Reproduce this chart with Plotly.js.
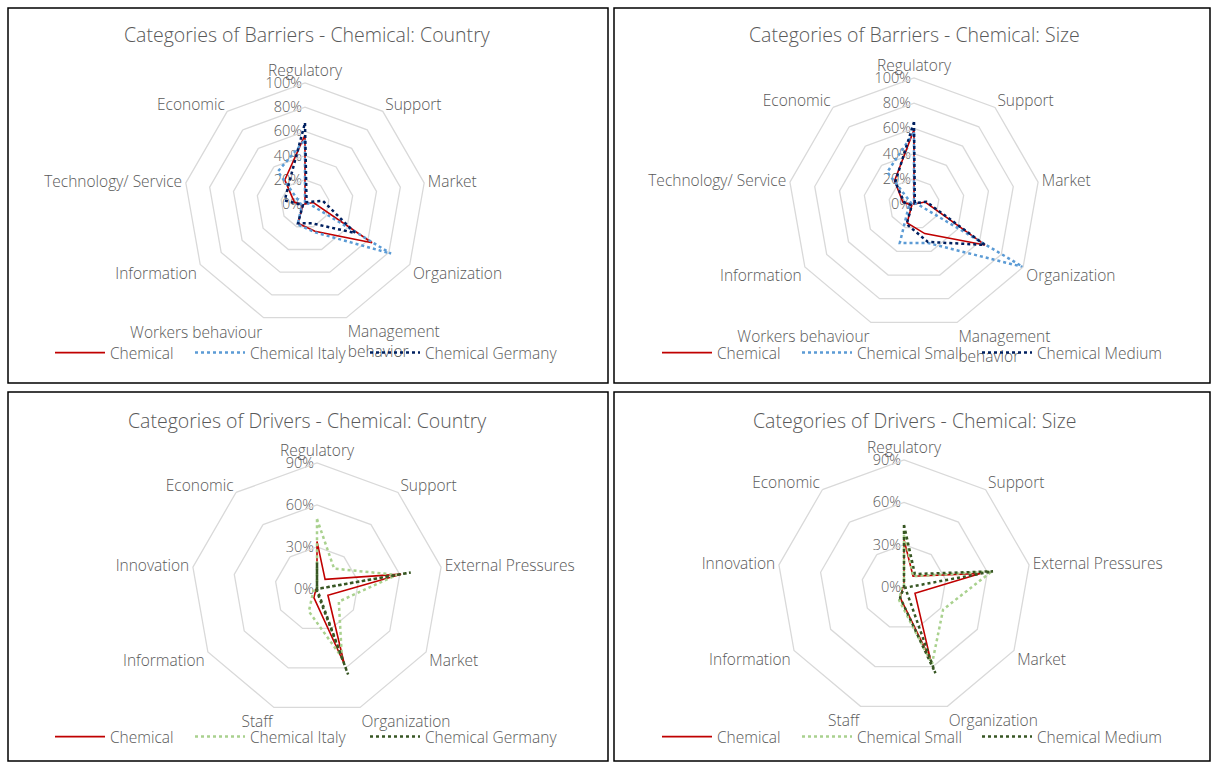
<!DOCTYPE html>
<html>
<head>
<meta charset="utf-8">
<script src="https://cdn.plot.ly/plotly-3.0.1.min.js"></script>
<style>
html,body{margin:0;padding:0;background:#fff;}
#chart{width:1211px;height:762px;}
</style>
</head>
<body>
<div id="chart"></div>
<script>
// ---- Categories ----
var barrierCats = ['Regulatory','Support','Market','Organization','Management<br>behavior','Workers behaviour','Information','Technology/ Service','Economic'];
var driverCats = ['Regulatory','Support','External Pressures','Market','Organization','Staff','Information','Innovation','Economic'];

// ---- Barriers: Country ----
var barCountryChemical = [0.57, 0.00, 0.07, 0.64, 0.24, 0.17, 0.02, 0.09, 0.26];
var barCountryItaly    = [0.53, 0.00, 0.03, 0.82, 0.25, 0.18, 0.03, 0.04, 0.35];
var barCountryGermany  = [0.67, 0.02, 0.15, 0.48, 0.17, 0.17, 0.02, 0.17, 0.21];

// ---- Barriers: Size ----
var barSizeChemical = [0.59, 0.00, 0.09, 0.65, 0.25, 0.16, 0.02, 0.09, 0.24];
var barSizeSmall    = [0.57, 0.00, 0.02, 1.00, 0.33, 0.33, 0.05, 0.02, 0.33];
var barSizeMedium   = [0.65, 0.01, 0.10, 0.65, 0.32, 0.17, 0.02, 0.08, 0.23];

// ---- Drivers: Country ----
var drvCountryChemical = [0.34, 0.09, 0.61, 0.09, 0.57, 0.065, 0.01, 0.00, 0.00];
var drvCountryItaly    = [0.50, 0.19, 0.58, 0.18, 0.52, 0.17, 0.03, 0.00, 0.00];
var drvCountryGermany  = [0.19, 0.00, 0.68, 0.00, 0.65, 0.01, 0.00, 0.00, 0.00];

// ---- Drivers: Size ----
var drvSizeChemical = [0.335, 0.10, 0.55, 0.09, 0.55, 0.08, 0.01, 0.00, 0.00];
var drvSizeSmall    = [0.40, 0.10, 0.63, 0.32, 0.58, 0.10, 0.02, 0.00, 0.00];
var drvSizeMedium   = [0.44, 0.12, 0.64, 0.01, 0.65, 0.08, 0.00, 0.00, 0.00];

// ---- Tick labels ----
var barrierTickVals = [0, 0.2, 0.4, 0.6, 0.8, 1.0];
var barrierTickText = ['0%','20%','40%','60%','80%','100%'];
var driverTickVals = [0, 0.3, 0.6, 0.9];
var driverTickText = ['0%','30%','60%','90%'];

var FONT = '"Open Sans", Lato, sans-serif';
var TXT = '#595959';
var WT = 300;
var FS = 15.5;

var W = 1211, H = 762;
function px(x){ return x/W; }
function py(y){ return 1 - y/H; }

function close(a){ return a.concat([a[0]]); }

function tr(r, cats, name, color, dash, width, sub, leg){
  return {
    type:'scatterpolar', mode:'lines',
    r: close(r), theta: close(cats), name: name,
    line:{color:color, dash:dash, width:width},
    subplot: sub, legend: leg, hoverinfo:'skip'
  };
}

var RED = '#c00000', LBLUE = '#5b9bd5', NAVY = '#002060', LGREEN = '#a9d18e', DGREEN = '#375623';

var data = [
  tr(barCountryChemical, barrierCats, 'Chemical', RED, 'solid', 1.6, 'polar', 'legend'),
  tr(barCountryItaly, barrierCats, 'Chemical Italy', LBLUE, 'dot', 2.5, 'polar', 'legend2'),
  tr(barCountryGermany, barrierCats, 'Chemical Germany', NAVY, 'dot', 2.5, 'polar', 'legend3'),

  tr(barSizeChemical, barrierCats, 'Chemical', RED, 'solid', 1.6, 'polar2', 'legend4'),
  tr(barSizeSmall, barrierCats, 'Chemical Small', LBLUE, 'dot', 2.5, 'polar2', 'legend5'),
  tr(barSizeMedium, barrierCats, 'Chemical Medium', NAVY, 'dot', 2.5, 'polar2', 'legend6'),

  tr(drvCountryChemical, driverCats, 'Chemical', RED, 'solid', 1.6, 'polar3', 'legend7'),
  tr(drvCountryItaly, driverCats, 'Chemical Italy', LGREEN, 'dot', 2.5, 'polar3', 'legend8'),
  tr(drvCountryGermany, driverCats, 'Chemical Germany', DGREEN, 'dot', 2.5, 'polar3', 'legend9'),

  tr(drvSizeChemical, driverCats, 'Chemical', RED, 'solid', 1.6, 'polar4', 'legend10'),
  tr(drvSizeSmall, driverCats, 'Chemical Small', LGREEN, 'dot', 2.5, 'polar4', 'legend11'),
  tr(drvSizeMedium, driverCats, 'Chemical Medium', DGREEN, 'dot', 2.5, 'polar4', 'legend12')
];

// empty carriers for the percentage scales drawn beside each Regulatory spoke
['y','y2','y3','y4'].forEach(function(ya){
  data.push({type:'scatter', mode:'lines', x:[null], y:[null], xaxis:'x', yaxis:ya,
    showlegend:false, hoverinfo:'skip'});
});

function polar(xd, yd, rng){
  return {
    domain:{x:xd, y:yd},
    gridshape:'linear',
    bgcolor:'rgba(0,0,0,0)',
    radialaxis:{
      range:rng, tickvals:(rng[1] > 0.95 ? barrierTickVals : driverTickVals), angle:90,
      showticklabels:false, showline:false, ticks:'', gridcolor:'#d9d9d9', gridwidth:1.3
    },
    angularaxis:{
      rotation:90, direction:'clockwise', showgrid:false,
      linecolor:'#d9d9d9', linewidth:1.3, ticks:'', ticklen:0,
      tickfont:{family:FONT, size:FS, color:TXT, weight:WT}
    }
  };
}

function scaleAxis(cx, cy, r, rng, tv, tt){
  return {
    domain:[py(cy), py(cy - r)], range:rng, tickvals:tv, ticktext:tt,
    anchor:'free', position:px(cx - 3), side:'left', showgrid:false, zeroline:false,
    showline:false, ticks:'', fixedrange:true,
    tickfont:{family:FONT, size:14.5, color:TXT, weight:WT}
  };
}

function legend(xLine, yc){
  return {
    orientation:'h', x:px(xLine - 5), y:py(yc), xanchor:'left', yanchor:'middle',
    font:{family:FONT, size:FS, color:TXT, weight:WT}, itemwidth:50,
    bgcolor:'rgba(0,0,0,0)', borderwidth:0
  };
}

function title(text, x, y){
  return {text:text, x:x, y:y, xref:'paper', yref:'paper', showarrow:false,
    xanchor:'center', yanchor:'middle', font:{family:FONT, size:19.5, color:TXT, weight:WT}};
}

function box(x0,y0,x1,y1){
  return {type:'rect', xref:'paper', yref:'paper', x0:x0, y0:y0, x1:x1, y1:y1,
    line:{color:'#000', width:1.5}, fillcolor:'rgba(0,0,0,0)'};
}

var layout = {
  width:W, height:H,
  margin:{l:0, r:0, t:0, b:0},
  paper_bgcolor:'#fff',
  plot_bgcolor:'rgba(0,0,0,0)',
  showlegend:true,
  polar:  polar([px(305-121), px(305+121)], [py(204+121), py(204-121)], [0,1]),
  polar2: polar([px(914-126), px(914+126)], [py(204+126), py(204-126)], [0,1]),
  polar3: polar([px(317-126), px(317+126)], [py(589+126), py(589-126)], [0,0.9]),
  polar4: polar([px(904-127), px(904+127)], [py(587+127), py(587-127)], [0,0.9]),
  xaxis:{visible:false, domain:[0,1], range:[0,1], fixedrange:true},
  yaxis:  scaleAxis(305, 204, 121, [0,1], barrierTickVals, barrierTickText),
  yaxis2: scaleAxis(914, 204, 126, [0,1], barrierTickVals, barrierTickText),
  yaxis3: scaleAxis(317, 589, 126, [0,0.9], driverTickVals, driverTickText),
  yaxis4: scaleAxis(904, 587, 127, [0,0.9], driverTickVals, driverTickText),
  legend:   legend(55, 353),
  legend2:  legend(195, 353),
  legend3:  legend(370, 353),
  legend4:  legend(662, 353),
  legend5:  legend(802, 353),
  legend6:  legend(982, 353),
  legend7:  legend(55, 737),
  legend8:  legend(195, 737),
  legend9:  legend(370, 737),
  legend10: legend(662, 737),
  legend11: legend(802, 737),
  legend12: legend(982, 737),
  annotations:[
    title('Categories of Barriers - Chemical: Country', px(307), py(35)),
    title('Categories of Barriers - Chemical: Size', px(914), py(35)),
    title('Categories of Drivers - Chemical: Country', px(307), py(420)),
    title('Categories of Drivers - Chemical: Size', px(914), py(420))
  ],
  shapes:[
    box(px(8), py(383), px(608), py(8)),
    box(px(614), py(383), px(1210), py(8)),
    box(px(8), py(761), px(608), py(392)),
    box(px(614), py(761), px(1210), py(392))
  ]
};

Plotly.newPlot('chart', data, layout, {displayModeBar:false, staticPlot:true});
</script>
</body>
</html>
